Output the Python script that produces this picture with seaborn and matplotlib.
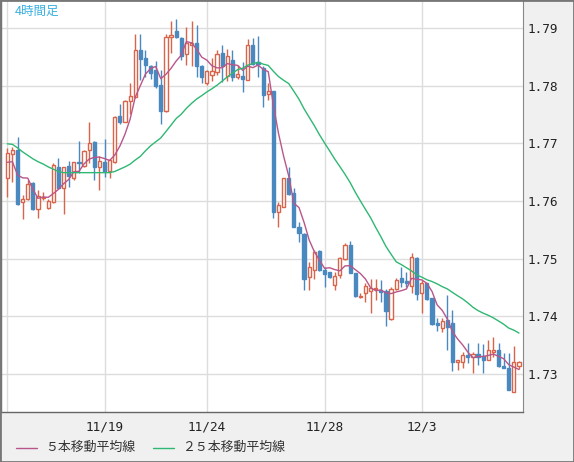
import numpy as np
import pandas as pd
import matplotlib
matplotlib.use('Agg')
import matplotlib.pyplot as plt
import seaborn as sns
from matplotlib.lines import Line2D
from matplotlib.patches import Rectangle

# 4-hour candles (oldest -> newest)
opens = [1.7639, 1.7681, 1.7688, 1.7599, 1.7603, 1.7631, 1.7586, 1.7605, 1.7587, 1.7599,
         1.7659, 1.7622, 1.7661, 1.7640, 1.7668, 1.7661, 1.7689, 1.7702, 1.7658, 1.7667,
         1.7652, 1.7667, 1.7747, 1.7737, 1.7773, 1.7780, 1.7862, 1.7848, 1.7833, 1.7827,
         1.7801, 1.7755, 1.7884, 1.7894, 1.7882, 1.7854, 1.7870, 1.7873, 1.7834, 1.7805,
         1.7818, 1.7824, 1.7857, 1.7816, 1.7844, 1.7815, 1.7816, 1.7810, 1.7870, 1.7841,
         1.7830, 1.7785, 1.7791, 1.7581, 1.7590, 1.7639, 1.7613, 1.7554, 1.7543, 1.7468,
         1.7481, 1.7514, 1.7480, 1.7476, 1.7455, 1.7472, 1.7499, 1.7524, 1.7475, 1.7434,
         1.7441, 1.7444, 1.7447, 1.7446, 1.7444, 1.7395, 1.7447, 1.7466, 1.7461, 1.7453,
         1.7501, 1.7440, 1.7457, 1.7431, 1.7388, 1.7380, 1.7394, 1.7388, 1.7321, 1.7320,
         1.7333, 1.7329, 1.7335, 1.7331, 1.7325, 1.7339, 1.7342, 1.7314, 1.7310, 1.7269,
         1.7314]
highs = [1.7691, 1.7694, 1.7711, 1.7611, 1.7636, 1.7633, 1.7619, 1.7616, 1.7603, 1.7665,
         1.7674, 1.7659, 1.7669, 1.7668, 1.7703, 1.7689, 1.7736, 1.7703, 1.7677, 1.7707,
         1.7672, 1.7747, 1.7768, 1.7775, 1.7804, 1.7890, 1.7890, 1.7862, 1.7836, 1.7842,
         1.7827, 1.7890, 1.7911, 1.7916, 1.7884, 1.7902, 1.7912, 1.7905, 1.7836, 1.7827,
         1.7848, 1.7862, 1.7870, 1.7863, 1.7862, 1.7836, 1.7841, 1.7880, 1.7882, 1.7885,
         1.7833, 1.7804, 1.7791, 1.7599, 1.7639, 1.7659, 1.7622, 1.7563, 1.7544, 1.7495,
         1.7515, 1.7515, 1.7486, 1.7477, 1.7476, 1.7503, 1.7527, 1.7531, 1.7475, 1.7440,
         1.7457, 1.7464, 1.7464, 1.7463, 1.7447, 1.7450, 1.7466, 1.7486, 1.7477, 1.7509,
         1.7502, 1.7463, 1.7458, 1.7431, 1.7397, 1.7397, 1.7437, 1.7411, 1.7324, 1.7339,
         1.7354, 1.7339, 1.7353, 1.7352, 1.7359, 1.7365, 1.7353, 1.7336, 1.7337, 1.7349,
         1.7323]
lows = [1.7607, 1.7633, 1.7593, 1.7569, 1.7602, 1.7584, 1.7570, 1.7602, 1.7586, 1.7596,
        1.7621, 1.7577, 1.7625, 1.7636, 1.7648, 1.7659, 1.7665, 1.7636, 1.7619, 1.7641,
        1.7639, 1.7665, 1.7734, 1.7736, 1.7751, 1.7778, 1.7810, 1.7815, 1.7812, 1.7795,
        1.7734, 1.7754, 1.7856, 1.7882, 1.7844, 1.7836, 1.7833, 1.7815, 1.7805, 1.7801,
        1.7807, 1.7818, 1.7806, 1.7808, 1.7808, 1.7812, 1.7788, 1.7810, 1.7836, 1.7815,
        1.7763, 1.7775, 1.7570, 1.7554, 1.7590, 1.7610, 1.7554, 1.7529, 1.7446, 1.7446,
        1.7464, 1.7479, 1.7450, 1.7466, 1.7446, 1.7466, 1.7498, 1.7475, 1.7433, 1.7432,
        1.7424, 1.7406, 1.7428, 1.7425, 1.7383, 1.7394, 1.7446, 1.7451, 1.7450, 1.7441,
        1.7429, 1.7406, 1.7428, 1.7385, 1.7375, 1.7373, 1.7342, 1.7306, 1.7307, 1.7310,
        1.7319, 1.7302, 1.7316, 1.7302, 1.7324, 1.7330, 1.7313, 1.7310, 1.7272, 1.7269,
        1.7308]
closes = [1.7683, 1.7688, 1.7595, 1.7603, 1.7629, 1.7586, 1.7609, 1.7607, 1.7600, 1.7662,
          1.7622, 1.7658, 1.7644, 1.7667, 1.7665, 1.7687, 1.7700, 1.7658, 1.7670, 1.7652,
          1.7671, 1.7746, 1.7736, 1.7773, 1.7782, 1.7862, 1.7846, 1.7836, 1.7821, 1.7800,
          1.7756, 1.7884, 1.7888, 1.7884, 1.7851, 1.7874, 1.7873, 1.7833, 1.7815, 1.7825,
          1.7825, 1.7855, 1.7834, 1.7851, 1.7815, 1.7820, 1.7812, 1.7870, 1.7838, 1.7837,
          1.7784, 1.7791, 1.7581, 1.7593, 1.7639, 1.7612, 1.7555, 1.7544, 1.7464, 1.7486,
          1.7512, 1.7481, 1.7473, 1.7469, 1.7470, 1.7501, 1.7524, 1.7475, 1.7435, 1.7436,
          1.7453, 1.7449, 1.7449, 1.7442, 1.7410, 1.7447, 1.7463, 1.7460, 1.7457, 1.7502,
          1.7439, 1.7458, 1.7430, 1.7387, 1.7385, 1.7392, 1.7382, 1.7321, 1.7324, 1.7333,
          1.7330, 1.7334, 1.7330, 1.7325, 1.7342, 1.7342, 1.7314, 1.7310, 1.7273, 1.7321,
          1.7321]

# moving average values visible before enough candles are on screen
ma5_head = [1.7667, 1.7668, 1.7645, 1.7640]
ma25_head = [1.7699, 1.7698, 1.7692, 1.7685, 1.7679, 1.7673, 1.7668, 1.7664, 1.7659, 1.7655,
             1.7651, 1.7649, 1.7649, 1.7649, 1.7649, 1.7649, 1.7649, 1.7649, 1.7649, 1.7649,
             1.7649, 1.7651, 1.7655, 1.7659]

tick_pos = [0, 19, 39, 62, 81]
tick_labels = ['', '11/19', '11/24', '11/28', '12/3']
price_ticks = [1.73, 1.74, 1.75, 1.76, 1.77, 1.78, 1.79]
legend_labels = ['５本移動平均線', '２５本移動平均線']
title = '4時間足'

up_color = '#d8644a'
down_color = '#4a89c0'
ma5_color = '#b8568a'
ma25_color = '#2eb872'

df = pd.DataFrame({'open': opens, 'high': highs, 'low': lows, 'close': closes})
df['x'] = np.arange(len(df))
df['ma5'] = df['close'].rolling(5).mean()
df.loc[:len(ma5_head) - 1, 'ma5'] = ma5_head
df['ma25'] = df['close'].rolling(25).mean()
df.loc[:len(ma25_head) - 1, 'ma25'] = ma25_head
up = df['close'] >= df['open']

sns.set_style('white')
plt.rcParams['font.family'] = ['Noto Sans CJK JP', 'DejaVu Sans']

fig = plt.figure(figsize=(5.74, 4.62), dpi=100, facecolor='#f0f0f0')
ax = fig.add_axes([0.00174, 0.10887, 0.90990, 0.88897])
ax.set_facecolor('white')

# grid
ax.set_yticks(price_ticks)
ax.set_xticks(tick_pos)
ax.set_xticklabels(tick_labels)
ax.grid(True, color='#dddddd', linewidth=1)
ax.set_axisbelow(True)

# wicks then bodies
wick_colors = np.where(up, up_color, down_color)
ax.vlines(df['x'], df['low'], df['high'], colors=wick_colors, linewidth=1, zorder=2)
ax.bar(df.loc[up, 'x'], df.loc[up, 'close'] - df.loc[up, 'open'], bottom=df.loc[up, 'open'],
       width=0.62, facecolor='white', edgecolor=up_color, linewidth=1, zorder=3)
ax.bar(df.loc[~up, 'x'], df.loc[~up, 'close'] - df.loc[~up, 'open'], bottom=df.loc[~up, 'open'],
       width=0.62, facecolor=down_color, edgecolor=down_color, linewidth=1, zorder=3)

# moving averages
sns.lineplot(x=df['x'], y=df['ma5'], color=ma5_color, linewidth=1, ax=ax, zorder=4)
sns.lineplot(x=df['x'], y=df['ma25'], color=ma25_color, linewidth=1, ax=ax, zorder=4)

ax.set_xlim(-1.23, 100.84)
ax.set_ylim(1.72347, 1.79465)
ax.set_xlabel('')
ax.set_ylabel('')

ax.yaxis.tick_right()
ax.yaxis.set_major_formatter(matplotlib.ticker.FormatStrFormatter('%.2f'))
ax.tick_params(axis='y', length=0, pad=3, labelsize=9.2, labelcolor='#222222')
ax.tick_params(axis='x', length=0, pad=6, labelsize=9.2, labelcolor='#222222')
for t in ax.get_yticklabels() + ax.get_xticklabels():
    t.set_fontfamily('DejaVu Sans Mono')

for side in ['left', 'bottom']:
    ax.spines[side].set_color('#666666')
    ax.spines[side].set_linewidth(1)
ax.spines['right'].set_color('#888888')
ax.spines['top'].set_visible(False)

# title in plot corner
fig.text(15 / 574, 1 - 11 / 462, title, color='#3ab0e0', fontsize=9, ha='left', va='center')

# legend under the axis
ly = 1 - 447.7 / 462
fig.add_artist(Line2D([16 / 574, 36.5 / 574], [ly, ly], color=ma5_color, linewidth=1))
fig.text(45 / 574, ly, legend_labels[0], fontsize=9.3, color='#333333', ha='left', va='center')
fig.add_artist(Line2D([153 / 574, 173.5 / 574], [ly, ly], color=ma25_color, linewidth=1))
fig.text(182 / 574, ly, legend_labels[1], fontsize=9.3, color='#333333', ha='left', va='center')

# outer frame
fig.add_artist(Rectangle((0, 0), 1, 1, transform=fig.transFigure, fill=False,
                         edgecolor='#777777', linewidth=2))

fig.savefig('out.png', dpi=100, facecolor=fig.get_facecolor())
